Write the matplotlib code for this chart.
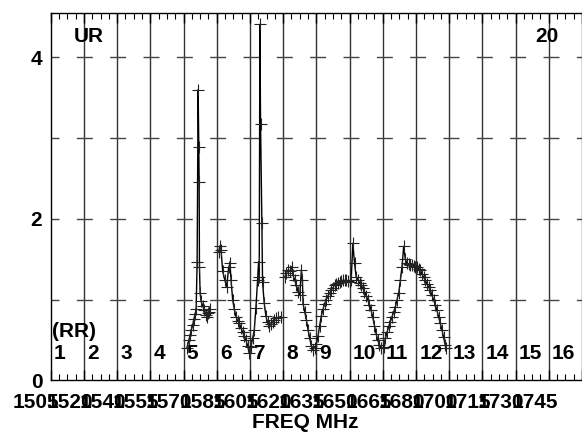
import matplotlib
matplotlib.use('Agg')
import matplotlib.pyplot as plt
import matplotlib.transforms as mtransforms

plt.rcParams['font.family'] = ['Liberation Sans', 'DejaVu Sans']
plt.rcParams['font.weight'] = 'bold'

# x in channel units (gridline k = left edge of channel k+1)
seg_a_x = [4.10, 4.16, 4.20, 4.23, 4.28, 4.31, 4.35, 4.38, 4.41, 4.44, 4.46, 4.47, 4.48, 4.50,
           4.53, 4.58, 4.63, 4.68, 4.70, 4.73, 4.76, 4.79]
seg_a_y = [0.40, 0.50, 0.56, 0.62, 0.69, 0.76, 0.82, 0.88, 1.47, 3.60, 2.89, 2.46, 1.41, 1.08,
           0.98, 0.92, 0.87, 0.81, 0.79, 0.83, 0.85, 0.88]
seg_b_x = [5.06, 5.10, 5.13, 5.18, 5.24, 5.30, 5.36, 5.40, 5.43, 5.48, 5.53, 5.58, 5.63, 5.68,
           5.73, 5.78, 5.83, 5.88, 5.93, 5.98]
seg_b_y = [1.59, 1.67, 1.62, 1.35, 1.25, 1.16, 1.40, 1.45, 1.25, 1.00, 0.88, 0.79, 0.74, 0.71,
           0.65, 0.60, 0.55, 0.50, 0.43, 0.34]
seg_c_x = [6.03, 6.08, 6.13, 6.18, 6.23, 6.26, 6.28, 6.30, 6.32, 6.36, 6.38, 6.43, 6.48, 6.53,
           6.58, 6.63, 6.68, 6.73, 6.78, 6.85, 6.93]
seg_c_y = [0.42, 0.52, 0.62, 0.90, 1.24, 1.47, 1.28, 4.41, 3.18, 1.95, 1.22, 0.96, 0.80, 0.72,
           0.67, 0.70, 0.72, 0.75, 0.77, 0.78, 0.79]
seg_d_x = [7.05, 7.10, 7.15, 7.20, 7.26, 7.30, 7.35, 7.40, 7.45, 7.50, 7.55, 7.58, 7.60, 7.65,
           7.70, 7.75, 7.80, 7.85, 7.90]
seg_d_y = [1.28, 1.33, 1.37, 1.35, 1.41, 1.30, 1.24, 1.18, 1.10, 1.06, 1.37, 1.25, 0.95, 0.85,
           0.75, 0.63, 0.52, 0.43, 0.38]
seg_e_x = [7.95, 8.00, 8.05, 8.10, 8.15, 8.20, 8.25, 8.30, 8.35, 8.40, 8.45, 8.50, 8.55, 8.60,
           8.65, 8.70, 8.75, 8.80, 8.85, 8.90, 8.95, 9.00, 9.05, 9.10, 9.15, 9.20, 9.25, 9.30,
           9.35, 9.40, 9.45, 9.50, 9.55, 9.60, 9.65, 9.70, 9.75, 9.80, 9.85, 9.90, 9.95]
seg_e_y = [0.40, 0.45, 0.55, 0.68, 0.80, 0.88, 0.95, 1.00, 1.05, 1.08, 1.12, 1.15, 1.18, 1.20,
           1.21, 1.22, 1.23, 1.24, 1.24, 1.24, 1.23, 1.22, 1.25, 1.70, 1.45, 1.28, 1.25, 1.21,
           1.18, 1.14, 1.10, 1.05, 1.00, 0.94, 0.87, 0.78, 0.68, 0.58, 0.50, 0.44, 0.40]
seg_f_x = [10.03, 10.08, 10.13, 10.18, 10.23, 10.28, 10.33, 10.38, 10.43, 10.48, 10.53, 10.58,
           10.63, 10.68, 10.73, 10.78, 10.83, 10.88, 10.93, 10.98, 11.03, 11.08, 11.13, 11.18,
           11.23, 11.28, 11.33, 11.38, 11.43, 11.48, 11.53, 11.58, 11.63, 11.68, 11.73, 11.78,
           11.83, 11.88, 11.90]
seg_f_y = [0.42, 0.52, 0.60, 0.67, 0.73, 0.79, 0.85, 0.91, 1.00, 1.08, 1.24, 1.41,
           1.66, 1.50, 1.45, 1.44, 1.43, 1.43, 1.42, 1.41, 1.40, 1.38, 1.37, 1.32,
           1.28, 1.24, 1.20, 1.16, 1.12, 1.06, 1.00, 0.94, 0.87, 0.79, 0.71, 0.63,
           0.54, 0.44, 0.40]

segments = [(seg_a_x, seg_a_y), (seg_b_x, seg_b_y), (seg_c_x, seg_c_y),
            (seg_d_x, seg_d_y), (seg_e_x, seg_e_y), (seg_f_x, seg_f_y)]

freq_labels = ['1505', '1520', '1540', '1555', '1570', '1585', '1605', '1620',
               '1635', '1650', '1665', '1680', '1700', '1715', '1730', '1745']
channels = [str(i) for i in range(1, 17)]

fs = 15

fig = plt.figure(figsize=(5.82, 4.34), dpi=100)
ax = fig.add_axes([0.0871, 0.1233, 0.9129, 0.8467])
ax.set_xlim(0, 15.95)
ax.set_ylim(0, 4.55)

# vertical channel gridlines
for k in range(1, 17):
    ax.axvline(k, color='#333333', lw=1.0, zorder=1)
# dashed horizontal gridlines, dashes centred on the vertical lines
for yv in [1, 2, 3, 4]:
    ax.axhline(yv, color='#444444', lw=1.0, linestyle=(5.75, (11.5, 12.5)), zorder=1)

for sx, sy in segments:
    ax.plot(sx, sy, color='black', lw=1.0, marker='+', ms=9, mew=0.8,
            mec='#222222', zorder=3)

ax.spines['right'].set_visible(False)
for s in ['left', 'top', 'bottom']:
    ax.spines[s].set_linewidth(1.0)

ax.set_xticks(range(0, 17))
ax.set_xticks([k + q / 4 for k in range(16) for q in (1, 2, 3)], minor=True)
ax.tick_params(axis='x', which='major', direction='in', length=7, top=True,
               bottom=True, labelbottom=False, width=1)
ax.tick_params(axis='x', which='minor', direction='in', length=4, top=True,
               bottom=True, width=0.8)
ax.set_yticks([0, 2, 4])
ax.set_yticklabels(['0', '2', '4'])
ax.tick_params(axis='y', length=0, pad=6, labelsize=fs)
for lab in ax.get_yticklabels():
    lab.set_fontweight('bold')

trans = mtransforms.blended_transform_factory(ax.transData, ax.transAxes)
for k, lab in enumerate(freq_labels):
    ax.text(k - 0.43, -0.033, lab, transform=trans, ha='center', va='top',
            fontsize=fs, fontweight='bold', clip_on=False)
for k, lab in enumerate(channels):
    ax.text(k + 0.1, 0.0735, lab, transform=trans, ha='left', va='center',
            fontsize=fs, fontweight='bold')

ax.text(0.70, 0.935, 'UR', transform=trans, ha='left', va='center',
        fontsize=fs, fontweight='bold')
ax.text(14.59, 0.935, '20', transform=trans, ha='left', va='center',
        fontsize=fs, fontweight='bold')
ax.text(0.04, 0.132, '(RR)', transform=trans, ha='left', va='center',
        fontsize=fs, fontweight='bold')

fig.text(305 / 582, 1 - 423 / 434, 'FREQ MHz', ha='center', va='center',
         fontsize=fs, fontweight='bold')

fig.savefig('out.png', dpi=100)
